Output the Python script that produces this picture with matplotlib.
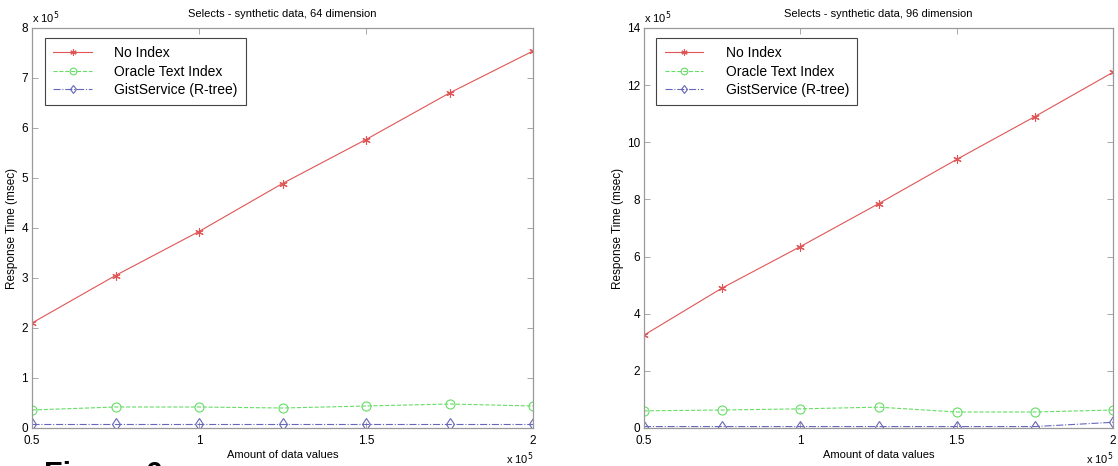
import numpy as np
import matplotlib.pyplot as plt

plt.rcParams['font.family'] = ['Liberation Sans', 'DejaVu Sans']

x_vals = [0.5, 0.75, 1.0, 1.25, 1.5, 1.75, 2.0]

# 64 dimension (units of 1e5 msec)
no_index_64 = [2.1, 3.05, 3.93, 4.89, 5.77, 6.7, 7.54]
oracle_64 = [0.36, 0.42, 0.42, 0.40, 0.44, 0.48, 0.44]
gist_64 = [0.08, 0.08, 0.08, 0.08, 0.08, 0.08, 0.08]

# 96 dimension
no_index_96 = [3.25, 4.9, 6.35, 7.85, 9.4, 10.9, 12.45]
oracle_96 = [0.6, 0.63, 0.67, 0.73, 0.56, 0.56, 0.63]
gist_96 = [0.05, 0.05, 0.05, 0.05, 0.05, 0.05, 0.2]

labels = ['No Index', 'Oracle Text Index', 'GistService (R-tree)']
titles = ['Selects - synthetic data, 64 dimension', 'Selects - synthetic data, 96 dimension']

W, H = 1118, 466
fig = plt.figure(figsize=(W / 100, H / 100), dpi=100)

def px_axes(x0, y0, x1, y1):
    return fig.add_axes([x0 / W, 1 - y1 / H, (x1 - x0) / W, (y1 - y0) / H])

def panel(ax, no_idx, orc, gst, ymax, yticks, title):
    ax.plot(x_vals, no_idx, '-', color='#e05555', marker=(6, 2, 0), ms=6, lw=0.8,
            mew=0.8, label=labels[0])
    ax.plot(x_vals, orc, '--', color='#66dd66', marker='o', ms=6.5, lw=0.8,
            mfc='none', mew=0.8, label=labels[1])
    ax.plot(x_vals, gst, '-.', color='#6666bb', marker='d', ms=6, lw=0.8,
            mfc='none', mew=0.8, label=labels[2])
    ax.set_xlim(0.5, 2)
    ax.set_ylim(0, ymax)
    ax.set_xticks([0.5, 1, 1.5, 2])
    ax.set_xticklabels(['0.5', '1', '1.5', '2'])
    ax.set_yticks(yticks)
    ax.tick_params(direction='in', top=True, right=True, labelsize=8.5,
                   length=4, width=0.6, colors='#999999', labelcolor='black', pad=3)
    ax.tick_params(axis='x', pad=5)
    for s in ax.spines.values():
        s.set_color('#999999')
        s.set_linewidth(0.9)
    ax.set_title(title, fontsize=8, pad=8)
    ax.set_xlabel('Amount of data values', fontsize=8, labelpad=2)
    ax.set_ylabel('Response Time (msec)', fontsize=8.5, labelpad=2)
    ax.text(0.0, 1.005, 'x 10$^5$', transform=ax.transAxes, fontsize=8,
            ha='left', va='bottom')
    ax.text(1.0, -0.055, 'x 10$^5$', transform=ax.transAxes, fontsize=8,
            ha='right', va='top')
    leg = ax.legend(loc='upper left', bbox_to_anchor=(0.026, 0.975), fontsize=10,
                    frameon=True, fancybox=False, handlelength=2.8,
                    handletextpad=1.6, labelspacing=0.3, borderpad=0.6,
                    borderaxespad=0, markerscale=0.75)
    leg.get_frame().set_edgecolor('#444444')
    leg.get_frame().set_linewidth(0.8)
    leg.get_frame().set_alpha(1)

ax1 = px_axes(32, 28, 533, 428)
panel(ax1, no_index_64, oracle_64, gist_64, 8, range(0, 9), titles[0])
ax2 = px_axes(644, 28, 1113, 428)
panel(ax2, no_index_96, oracle_96, gist_96, 14, range(0, 15, 2), titles[1])

fig.text(44 / W, 1 - 461 / H, 'Figure 6', fontsize=22, fontweight='bold',
         ha='left', va='top')

fig.savefig('out.png', dpi=100)
